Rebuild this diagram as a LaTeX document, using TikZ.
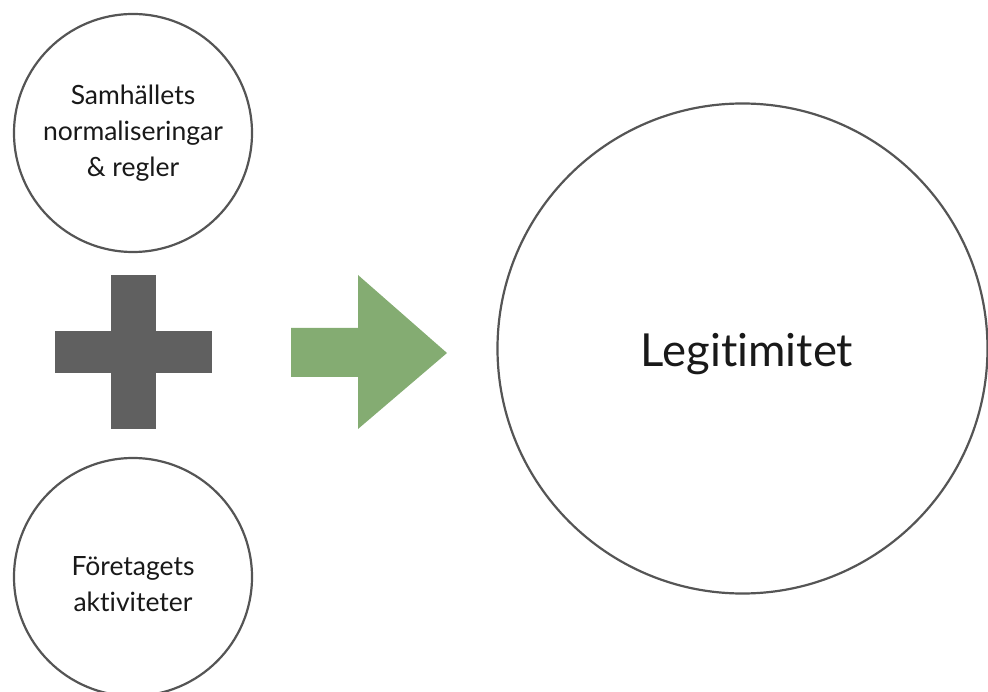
\documentclass[tikz,border=0pt]{standalone}
\usepackage{fontspec}
\setmainfont[Ligatures={NoCommon}]{Lato}
\definecolor{ringgray}{RGB}{85,85,85}
\definecolor{plusgray}{RGB}{96,96,96}
\definecolor{arrowgreen}{RGB}{132,172,114}
\definecolor{textdark}{RGB}{25,25,25}
\begin{document}
\begin{tikzpicture}[x=1pt,y=-1pt,
  ring/.style={circle,draw=ringgray,line width=2.2pt,fill=white,inner sep=0pt,
    align=center,text=textdark},
  smalltext/.style={font=\fontsize{26.5}{36}\selectfont},
  bigtext/.style={font=\fontsize{45.5}{50}\selectfont}]
  \useasboundingbox (0,0) rectangle (988,692);

  % input circles on the left
  \node[ring,smalltext,minimum size=238pt] (norms) at (133,133) {};
  \node[smalltext,align=center,text=textdark] (normstext) at (133,133)
    {Samhällets\\normaliseringar\\\& regler};
  \node[ring,smalltext,minimum size=238pt] (acts) at (133,577) {};
  \node[smalltext,align=center,text=textdark] (actstext) at (133,584)
    {Företagets\\aktiviteter};

  % result circle on the right
  \node[ring,minimum size=490pt] (legit) at (742.5,348.5) {};
  \node[bigtext,text=textdark] (legittext) at (747,354) {Legitimitet};

  % plus sign between the inputs
  \fill[plusgray] (111,275) rectangle (156,429);
  \fill[plusgray] (55,331) rectangle (212,373);

  % block arrow pointing to the result
  \fill[arrowgreen] (291,328) -- (358,328) -- (358,275) -- (447,353)
    -- (358,429) -- (358,377) -- (291,377) -- cycle;
\end{tikzpicture}
\end{document}
